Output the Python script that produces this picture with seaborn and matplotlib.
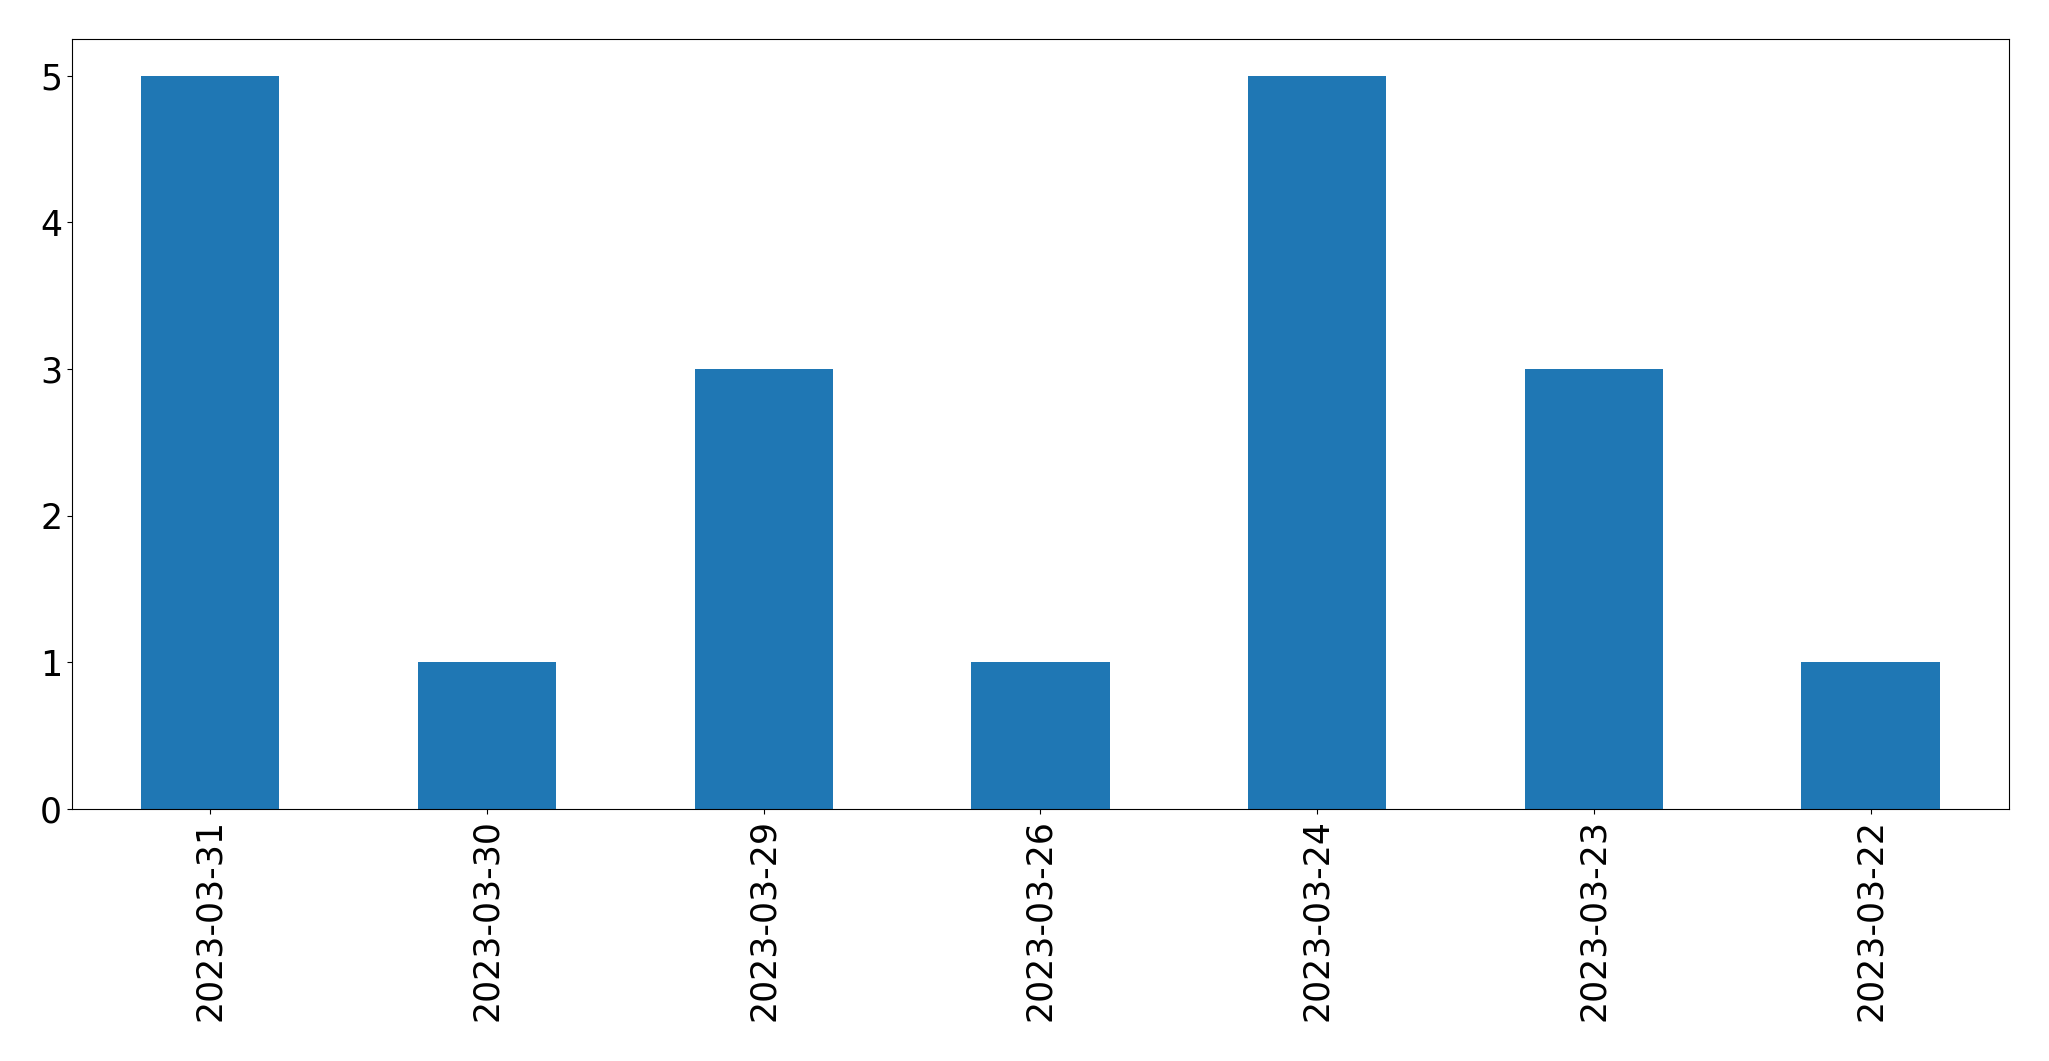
import pandas as pd
import matplotlib
matplotlib.use('Agg')
import matplotlib.pyplot as plt
import seaborn as sns

# data
dates = ['2023-03-31', '2023-03-30', '2023-03-29', '2023-03-26',
         '2023-03-24', '2023-03-23', '2023-03-22']
counts = [5, 1, 3, 1, 5, 3, 1]

df = pd.DataFrame({'date': dates, 'count': counts})

fig = plt.figure(figsize=(20.49, 10.61), dpi=100)
ax = fig.add_axes([0.0351, 0.2375, 0.9454, 0.7257])

sns.barplot(x='date', y='count', data=df, order=dates, color='#1f77b4',
            saturation=1, width=0.5, ax=ax)

ax.set_xlim(-0.5, len(dates) - 0.5)
ax.set_ylim(0, 5.25)
ax.set_xlabel('')
ax.set_ylabel('')
ax.tick_params(axis='both', labelsize=25)
plt.setp(ax.get_xticklabels(), rotation=90)

fig.savefig('out.png', dpi=100)
